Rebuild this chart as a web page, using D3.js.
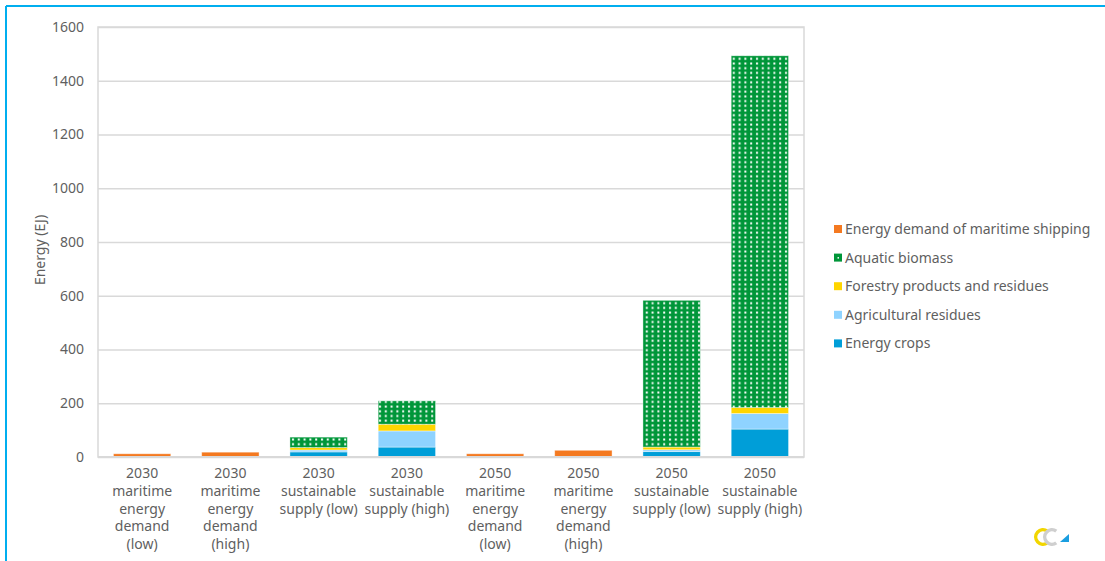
<!DOCTYPE html>
<html>
<head>
<meta charset="utf-8">
<script src="https://cdn.jsdelivr.net/npm/d3@7"></script>
<style>
  html, body { margin: 0; padding: 0; background: #fff; }
  svg { display: block; font-family: "Noto Sans", "DejaVu Sans", sans-serif; }
</style>
</head>
<body>
<svg id="chart" width="1105" height="561"></svg>
<script>
// Category labels (one entry per bar, lines separated by "\n")
const categories = [
  "2030\nmaritime\nenergy\ndemand\n(low)",
  "2030\nmaritime\nenergy\ndemand\n(high)",
  "2030\nsustainable\nsupply (low)",
  "2030\nsustainable\nsupply (high)",
  "2050\nmaritime\nenergy\ndemand\n(low)",
  "2050\nmaritime\nenergy\ndemand\n(high)",
  "2050\nsustainable\nsupply (low)",
  "2050\nsustainable\nsupply (high)"
];

// Series values (EJ)
const energyCrops  = [0, 0, 19, 37, 0, 0, 20, 104];
const agriResidues = [0, 0, 7, 60, 0, 0, 7, 58];
const forestry     = [0, 0, 9, 25, 0, 0, 10, 22];
const aquatic      = [0, 0, 39, 87, 0, 0, 546, 1309];
const demand       = [12, 18, 0, 0, 12, 25, 0, 0];

const yTicks = [0, 200, 400, 600, 800, 1000, 1200, 1400, 1600];

// Stack order bottom -> top
const seriesNames = ["Energy crops", "Agricultural residues", "Forestry products and residues",
                     "Aquatic biomass", "Energy demand of maritime shipping"];
const seriesValues = [energyCrops, agriResidues, forestry, aquatic, demand];
const seriesColors = ["#009ed8", "#8fd3ff", "#ffd500", "#009639", "#f47920"];

const rows = categories.map((c, i) => {
  const r = { category: c };
  seriesNames.forEach((s, k) => r[s] = seriesValues[k][i]);
  return r;
});

const svg = d3.select("#chart");
const textColor = "#5f5f5f";
const gridColor = "#d9d9d9";
const fontSize = 14;

// Frame lines (top and left)
svg.append("line").attr("x1", 6).attr("x2", 1105).attr("y1", 6).attr("y2", 6)
  .attr("stroke", "#00aeef").attr("stroke-width", 2);
svg.append("line").attr("x1", 6).attr("x2", 6).attr("y1", 6).attr("y2", 561)
  .attr("stroke", "#00aeef").attr("stroke-width", 2);

const plot = { left: 98, right: 804, top: 27, bottom: 457 };

const x = d3.scaleBand().domain(categories).range([plot.left, plot.right]).paddingInner(0.35).paddingOuter(0.175);
const y = d3.scaleLinear().domain([0, 1600]).range([plot.bottom, plot.top]);

// Dotted pattern for aquatic biomass
const defs = svg.append("defs");
const pat = defs.append("pattern").attr("id", "dots")
  .attr("patternUnits", "userSpaceOnUse").attr("width", 5.8).attr("height", 4.7);
pat.append("rect").attr("width", 5.8).attr("height", 4.7).attr("fill", "#009639");
pat.append("rect").attr("x", 2).attr("y", 1.4).attr("width", 2).attr("height", 2).attr("fill", "#ffffff");

// Gridlines and value ticks
const yAxis = d3.axisLeft(y).tickValues(yTicks).tickFormat(d3.format("d"))
  .tickSize(-(plot.right - plot.left)).tickPadding(14);
const gy = svg.append("g").attr("transform", `translate(${plot.left},0)`).call(yAxis);
gy.select(".domain").remove();
gy.selectAll(".tick line").attr("stroke", gridColor).attr("stroke-width", 1.5);
gy.selectAll(".tick text").attr("fill", textColor).attr("font-size", fontSize)
  .attr("font-family", '"Noto Sans", "DejaVu Sans", sans-serif');

// Plot area border
svg.append("rect").attr("x", plot.left).attr("y", plot.top)
  .attr("width", plot.right - plot.left).attr("height", plot.bottom - plot.top)
  .attr("fill", "none").attr("stroke", gridColor).attr("stroke-width", 1.5);

// Stacked bars
const stacked = d3.stack().keys(seriesNames)(rows);
svg.append("g").selectAll("g").data(stacked).join("g")
  .attr("fill", (d, i) => seriesNames[i] === "Aquatic biomass" ? "url(#dots)" : seriesColors[i])
  .selectAll("rect").data(d => d.filter(p => p[1] - p[0] > 0)).join("rect")
  .attr("x", d => x(d.data.category))
  .attr("width", x.bandwidth())
  .attr("y", d => y(d[1]))
  .attr("height", d => y(d[0]) - y(d[1]))
  .attr("stroke", "rgba(255,255,255,0.5)").attr("stroke-width", 0.8);

// Bottom axis line
svg.append("line").attr("x1", plot.left).attr("x2", plot.right)
  .attr("y1", plot.bottom).attr("y2", plot.bottom)
  .attr("stroke", gridColor).attr("stroke-width", 2);

// Category labels
const gx = svg.append("g").attr("transform", `translate(0,${plot.bottom})`)
  .call(d3.axisBottom(x).tickSize(0).tickFormat(""));
gx.select(".domain").remove();
gx.selectAll(".tick").each(function(d) {
  const t = d3.select(this).append("text")
    .attr("text-anchor", "middle").attr("fill", textColor).attr("font-size", fontSize)
    .attr("font-family", '"Noto Sans", "DejaVu Sans", sans-serif');
  d.split("\n").forEach((line, i) => {
    t.append("tspan").attr("x", 0).attr("y", 21 + i * 17.8).text(line);
  });
});

// Y axis title
svg.append("text")
  .attr("transform", `translate(45,${(plot.top + plot.bottom) / 2 + 8}) rotate(-90)`)
  .attr("text-anchor", "middle").attr("fill", textColor).attr("font-size", fontSize)
  .text("Energy (EJ)");

// Legend (top -> bottom reverses stack order)
const legendItems = seriesNames.map((n, i) => ({ name: n, color: seriesColors[i], dotted: n === "Aquatic biomass" })).reverse();
const lg = svg.append("g").attr("transform", "translate(834,229)");
const li = lg.selectAll("g").data(legendItems).join("g")
  .attr("transform", (d, i) => `translate(0,${i * 28.6})`);
li.append("rect").attr("x", 0).attr("y", -4).attr("width", 8).attr("height", 8)
  .attr("fill", d => d.color);
li.filter(d => d.dotted).append("rect").attr("x", 3.5).attr("y", -0.5).attr("width", 1.5).attr("height", 1.5).attr("fill", "#ffffff");
li.append("text").attr("x", 11).attr("y", 0).attr("dy", "0.35em")
  .attr("fill", textColor).attr("font-size", fontSize).text(d => d.name);

// Small logo mark in the bottom-right corner
const logo = svg.append("g").attr("transform", "translate(1043,537)");
const cShape = d3.arc()({ innerRadius: 5.5, outerRadius: 9, startAngle: Math.PI * 0.8, endAngle: Math.PI * 2.2 });
logo.append("path").attr("d", cShape).attr("fill", "#f2d600");
logo.append("path").attr("d", cShape).attr("fill", "#cfcfcf").attr("transform", "translate(9,0)");
logo.append("path").attr("d", "M17,5 L26,5 L26,-3 Z").attr("fill", "#1a9ee0");
</script>
</body>
</html>
